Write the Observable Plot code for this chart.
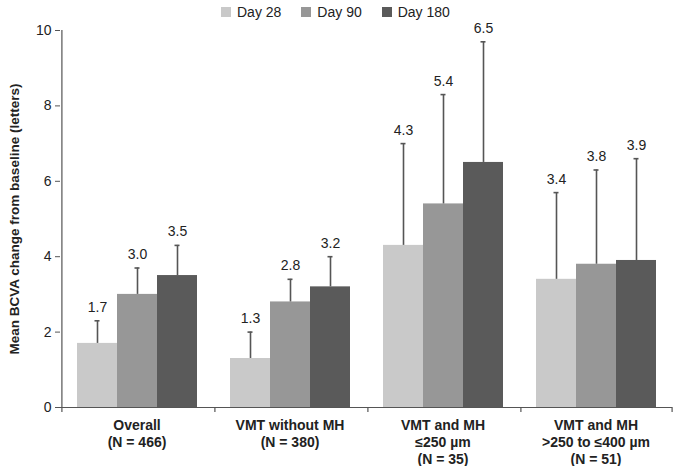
<!DOCTYPE html>
<html>
<head>
<meta charset="utf-8">
<script src="https://cdn.jsdelivr.net/npm/d3@7"></script>
<script src="https://cdn.jsdelivr.net/npm/@observablehq/plot@0.6"></script>
<style>
  html, body { margin: 0; padding: 0; background: #fff; }
  body { width: 673px; height: 466px; position: relative; overflow: hidden; font-family: "Liberation Sans", Arial, sans-serif; }
  #legend { position: absolute; top: 4px; left: 221px; display: flex; align-items: center; font-size: 14px; color: #222; z-index: 2; }
  #legend .item { display: flex; align-items: center; margin-right: 20px; }
  #legend .sw { width: 10px; height: 10px; margin-right: 6px; }
  #chart { position: absolute; top: 0; left: 0; }
  g[aria-label="y-axis label"] text { font-weight: bold; font-size: 13.5px; }
</style>
</head>
<body>
<div id="legend"></div>
<div id="chart"></div>
<script>
const groups = [
  "Overall\n(N = 466)",
  "VMT without MH\n(N = 380)",
  "VMT and MH\n≤250 µm\n(N = 35)",
  "VMT and MH\n>250 to ≤400 µm\n(N = 51)"
];
const series = ["Day 28", "Day 90", "Day 180"];
const colors = ["#c9c9c9", "#979797", "#5a5a5a"];
const day28 = [1.7, 1.3, 4.3, 3.4];
const day28Upper = [2.3, 2.0, 7.0, 5.7];
const day90 = [3.0, 2.8, 5.4, 3.8];
const day90Upper = [3.7, 3.4, 8.3, 6.3];
const day180 = [3.5, 3.2, 6.5, 3.9];
const day180Upper = [4.3, 4.0, 9.7, 6.6];
const yTicks = [0, 2, 4, 6, 8, 10];

const means = [day28, day90, day180];
const uppers = [day28Upper, day90Upper, day180Upper];
const data = [];
groups.forEach((g, gi) => {
  series.forEach((s, si) => {
    data.push({group: g, series: s, mean: means[si][gi], upper: uppers[si][gi]});
  });
});

const legend = document.getElementById("legend");
series.forEach((s, i) => {
  const it = document.createElement("div");
  it.className = "item";
  it.innerHTML = `<span class="sw" style="background:${colors[i]}"></span><span>${s}</span>`;
  legend.appendChild(it);
});

const axisColor = "#555";
const edge = 35.6;

const chart = Plot.plot({
  width: 673,
  height: 466,
  marginLeft: 59,
  marginRight: 1,
  marginTop: 30,
  marginBottom: 59,
  style: {fontFamily: "Liberation Sans, Arial, sans-serif", fontSize: "14px", color: "#222", background: "transparent"},
  fx: {domain: groups, padding: 0, label: null},
  x: {domain: series, paddingInner: 0, paddingOuter: 0.369, axis: null},
  y: {domain: [0, 10], label: null},
  color: {domain: series, range: colors},
  marks: [
    Plot.barY(data, {fx: "group", x: "series", y: "mean", fill: "series"}),
    Plot.ruleX(data, {fx: "group", x: "series", y1: "mean", y2: "upper", stroke: axisColor, strokeWidth: 1.6}),
    Plot.tickY(data, {fx: "group", x: "series", y: "upper", stroke: axisColor, strokeWidth: 1.6, insetLeft: 17.5, insetRight: 17.5}),
    Plot.text(data, {fx: "group", x: "series", y: "upper", text: d => d.mean.toFixed(1), dy: -9, lineAnchor: "bottom", fontSize: 14, fill: "#222"}),
    Plot.ruleY([0], {stroke: axisColor, strokeWidth: 1.2}),
    Plot.ruleX([series[0]], {x: d => d, y1: 0, y2: 0, insetBottom: -5, dx: -edge, stroke: axisColor, strokeWidth: 1.2}),
    Plot.ruleX([series[2]], {x: d => d, y1: 0, y2: 0, insetBottom: -5, dx: edge, stroke: axisColor, strokeWidth: 1.2, facetAnchor: "right"}),
    Plot.ruleX([series[0]], {x: d => d, y1: 0, y2: 10, dx: -edge, stroke: axisColor, strokeWidth: 1.2, facetAnchor: "left"}),
    Plot.axisY({ticks: yTicks, tickSize: 5, tickPadding: 4, stroke: axisColor, fill: "#222", fontSize: 14, label: "Mean BCVA change from baseline (letters)", labelArrow: "none", labelAnchor: "center", labelOffset: 51}),
    Plot.axisFx({anchor: "bottom", tickSize: 0, tickPadding: 11, fontSize: 14, fontWeight: "bold", fill: "#222", lineHeight: 1.2, label: null, tickFormat: d => d})
  ]
});
document.getElementById("chart").appendChild(chart);
</script>
</body>
</html>
